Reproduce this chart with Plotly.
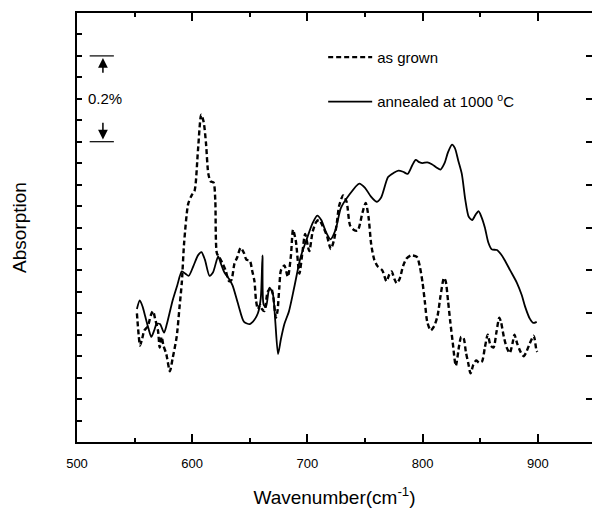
import plotly.graph_objects as go

# ---------------- data ----------------
wavenumber_annealed = [552, 554.5, 557, 559, 562, 564.5, 567, 569, 572, 575.5, 578, 583, 587, 591, 594, 597,
                       601, 605, 608, 611, 615, 618, 622.5, 625, 628, 632, 635, 640, 645, 650, 654, 657,
                       659.5, 661, 662, 664, 667, 670, 672, 674.5, 677, 680, 684, 688.5, 694, 700, 704.5,
                       708.5, 712, 716, 720, 724.5, 729, 736, 745, 750, 755, 760, 764, 770, 775, 779, 783,
                       787, 791, 794, 797, 800, 804, 808, 812, 815.5, 819, 822, 825.5, 828, 831, 834, 837,
                       840, 843, 846, 848.5, 851, 854, 857, 860, 864.5, 868, 871, 876, 882, 886, 889, 893,
                       896, 899]
absorption_annealed = [6.2, 6.6, 6.3, 5.9, 5.3, 4.9, 5.2, 5.5, 5.5, 5.1, 5.5, 6.6, 7.3, 7.95, 7.85, 7.75,
                       8.2, 8.7, 8.85, 8.5, 7.75, 7.9, 8.65, 8.3, 7.9, 7.6, 7.3, 6.4, 5.6, 5.5, 5.7, 6.0,
                       6.7, 8.7, 6.4, 6.3, 7.2, 6.9, 5.7, 4.1, 4.8, 5.5, 6.1, 7.2, 8.6, 9.55, 10.2,
                       10.55, 10.35, 9.8, 9.45, 9.9, 10.9, 11.5, 12.05, 11.85, 11.45, 11.2, 11.4, 12.35, 12.55, 12.65, 12.6,
                       12.5, 12.9, 13.15, 13.05, 13.0, 13.04, 12.95, 12.8, 12.7, 13.0, 13.5, 13.86, 13.7, 13.1, 12.5, 11.3,
                       10.5, 10.35, 10.6, 10.76, 10.5, 10.0, 9.3, 8.98, 8.95, 8.75, 8.5, 8.0, 7.4, 6.85, 6.3, 5.75,
                       5.55, 5.6]

wavenumber_grown = [552, 553.5, 554.7, 556.5, 558.4, 561.5, 564, 566, 568, 570.3, 571.8, 573.5, 575, 577.5,
                    580.6, 583, 586.5, 589, 591, 593, 596.5, 599.5, 602, 605, 607.8, 610, 612, 614, 616,
                    618.5, 620, 621.4, 623.6, 626.6, 629, 632, 634, 636.6, 639, 642, 645, 647, 650, 652,
                    654, 655.4, 657, 659, 660.5, 662.6, 665.5, 668.4, 670, 672.7, 674, 675.6, 677, 680,
                    683, 685.7, 687.5, 690, 693, 695.8, 698, 701.6, 704.5, 707.5, 710, 713, 717, 720.3,
                    723, 725.5, 727.5, 731, 734, 737, 740, 743.5, 747.8, 750.6, 753, 755.4, 758, 760.8,
                    765, 768.6, 771, 773, 775.5, 777.5, 780, 783, 786, 790, 795, 797.5, 800, 802, 804,
                    807, 810, 813, 815.5, 818.5, 820, 822, 824, 826, 828.8, 831.7, 833.5, 835.5, 837.5,
                    839.5, 841.6, 844, 846.5, 849, 851.5, 854, 856.5, 859, 861.5, 864, 866.5, 868, 870.5,
                    873, 875.6, 878, 879.7, 882, 885, 887.7, 890, 893, 896.4, 898.7, 899.5]
absorption_grown = [6.0, 5.0, 4.5, 4.8, 5.2, 5.4, 5.9, 6.1, 5.7, 5.2, 4.4, 4.9, 4.5, 4.1,
                    3.3, 3.9, 4.9, 6.3, 7.45, 9.3, 11.1, 11.5, 11.7, 13.6, 15.26, 14.9, 13.9, 12.5, 12.15,
                    12.1, 11.3, 8.8, 8.6, 8.3, 8.0, 7.5, 7.55, 8.3, 8.6, 9.05, 8.8, 8.5, 8.45, 8.0,
                    7.5, 6.6, 6.2, 6.4, 6.2, 6.1, 7.0, 7.2, 6.9, 5.8, 6.1, 7.2, 8.0, 8.23,
                    7.7, 8.7, 9.9, 9.35, 7.85, 8.9, 9.7, 8.9, 9.8, 10.25, 10.35, 10.1, 9.6, 9.0,
                    9.4, 10.2, 11.0, 11.5, 11.2, 10.1, 9.9, 9.85, 10.7, 11.15, 10.5, 9.2, 8.5, 8.2,
                    8.0, 7.5, 7.8, 7.95, 7.6, 7.4, 7.6, 8.2, 8.55, 8.7, 8.63, 8.2, 7.4, 6.5, 5.6,
                    5.2, 5.4, 5.9, 6.8, 7.65, 7.5, 6.6, 5.6, 4.7, 3.55, 4.5, 4.9, 4.85, 4.2,
                    3.7, 3.2, 3.6, 3.8, 3.7, 3.75, 4.4, 5.0, 4.5, 4.4, 5.1, 5.8, 5.6, 4.9,
                    4.4, 4.15, 4.6, 5.0, 4.6, 4.2, 4.0, 4.2, 4.6, 4.95, 4.3, 4.2]

series_names = ["as grown", "annealed at 1000 <sup>o</sup>C"]
x_tick_values = [500, 600, 700, 800, 900]
x_tick_labels = ["500", "600", "700", "800", "900"]
scale_bar_label = "0.2%"
scale_bar_low, scale_bar_high = 14, 18   # 4 axis units = 0.2 %

FONT = "Liberation Sans, Arial, sans-serif"

fig = go.Figure()
fig.add_trace(go.Scatter(
    x=wavenumber_grown, y=absorption_grown, mode="lines", name=series_names[0],
    line=dict(color="black", width=2.4, dash="5px,3px", shape="spline", smoothing=0.7),
    legendgroup="g1"))
fig.add_trace(go.Scatter(
    x=wavenumber_annealed, y=absorption_annealed, mode="lines", name=series_names[1],
    line=dict(color="black", width=1.8, shape="spline", smoothing=0.7),
    legendgroup="g2"))
# invisible trace to carry the right-hand tick axis
fig.add_trace(go.Scatter(x=[500], y=[0], yaxis="y2", mode="markers",
                         marker=dict(opacity=0), showlegend=False, hoverinfo="skip"))

# scale bar
bar_x0, bar_x1, bar_xm = 511, 532, 522.5
for yv in (scale_bar_low, scale_bar_high):
    fig.add_shape(type="line", xref="x", yref="y", x0=bar_x0, x1=bar_x1, y0=yv, y1=yv,
                  line=dict(color="black", width=1.2))
fig.add_annotation(x=bar_xm, y=scale_bar_high - 0.1, ax=bar_xm, ay=scale_bar_high - 0.85,
                   axref="x", ayref="y", xref="x", yref="y", text="", showarrow=True,
                   arrowhead=2, arrowsize=1.3, arrowwidth=1.5, arrowcolor="black")
fig.add_annotation(x=bar_xm, y=scale_bar_low + 0.1, ax=bar_xm, ay=scale_bar_low + 0.95,
                   axref="x", ayref="y", xref="x", yref="y", text="", showarrow=True,
                   arrowhead=2, arrowsize=1.3, arrowwidth=1.5, arrowcolor="black")
fig.add_annotation(x=bar_xm + 2, y=(scale_bar_low + scale_bar_high) / 2, xref="x", yref="y",
                   text=scale_bar_label, showarrow=False,
                   font=dict(family=FONT, size=15, color="black"))

fig.update_layout(
    width=592, height=514, autosize=False,
    margin=dict(l=77, r=0, t=13, b=72),
    paper_bgcolor="white", plot_bgcolor="white",
    font=dict(family=FONT, color="black"),
    showlegend=True,
    legend=dict(x=0.478, y=0.935, xanchor="left", yanchor="top",
                bgcolor="rgba(0,0,0,0)", font=dict(size=15, family=FONT),
                tracegroupgap=22, itemwidth=44),
    xaxis=dict(range=[500, 947], showgrid=False, zeroline=False,
               showline=True, linecolor="black", linewidth=2, mirror="ticks",
               tickmode="array", tickvals=x_tick_values, ticktext=x_tick_labels,
               ticks="inside", ticklen=8, tickwidth=1.5, tickcolor="black",
               tickfont=dict(size=13, family=FONT), ticklabelstandoff=8,
               minor=dict(dtick=50, tick0=550, ticks="inside", ticklen=4, tickwidth=1.5,
                          tickcolor="black", showgrid=False),
               title=dict(text="Wavenumber(cm<sup>-1</sup>)", font=dict(size=19, family=FONT),
                          standoff=21)),
    yaxis=dict(range=[0, 20], showgrid=False, zeroline=False,
               showline=True, linecolor="black", linewidth=2,
               tickmode="linear", tick0=0, dtick=1,
               ticks="inside", ticklen=5, tickwidth=1.5, tickcolor="black",
               showticklabels=False,
               title=dict(text="Absorption", font=dict(size=19, family=FONT), standoff=43)),
    yaxis2=dict(range=[0, 20], overlaying="y", side="right", showgrid=False, zeroline=False,
                showline=False, tickmode="linear", tick0=0, dtick=2,
                ticks="inside", ticklen=6, tickwidth=1.5, tickcolor="black",
                showticklabels=False),
)

fig.write_html("out.html")
